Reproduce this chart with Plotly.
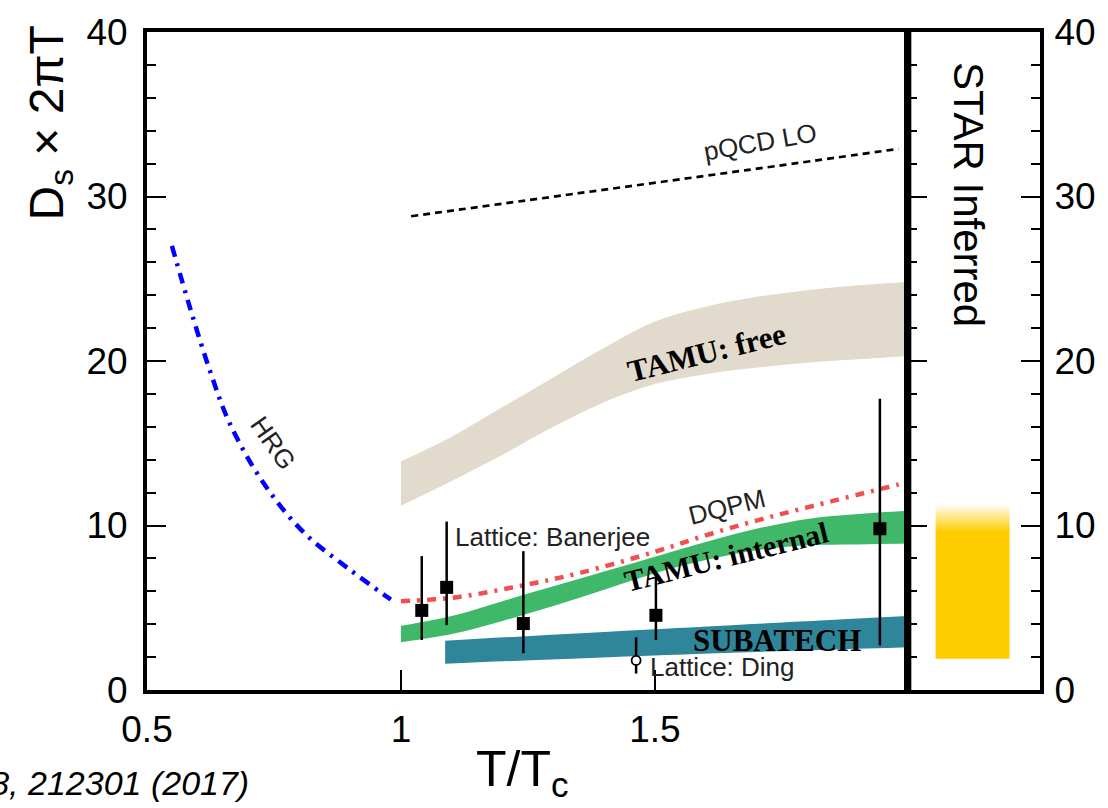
import plotly.graph_objects as go

# ---------------- data ----------------
# Hadron resonance gas (below Tc)
hrg_t = [0.549, 0.585, 0.624, 0.663, 0.729, 0.808, 0.900, 0.980]
hrg_ds = [27.0, 23.2, 19.4, 16.2, 12.6, 9.6, 7.3, 5.5]

# pQCD leading order
pqcd_t = [1.02, 1.35, 1.68, 1.98]
pqcd_ds = [28.8, 30.2, 31.6, 32.9]

# DQPM
dqpm_t = [1.0, 1.1, 1.23, 1.35, 1.5, 1.6, 1.7, 1.8, 1.98]
dqpm_ds = [5.4, 5.6, 6.3, 7.1, 8.4, 9.4, 10.3, 11.1, 12.5]

# TAMU bands
tamu_t = [1.0, 1.1, 1.2, 1.3, 1.4, 1.5, 1.6, 1.7, 1.8, 1.9, 1.998]
tamu_free_hi = [13.9, 15.4, 17.2, 19.0, 20.8, 22.4, 23.3, 23.9, 24.3, 24.6, 24.8]
tamu_free_lo = [11.2, 12.7, 14.3, 16.0, 17.5, 18.6, 19.2, 19.6, 19.9, 20.1, 20.3]
tamu_int_hi = [3.9, 4.5, 5.4, 6.3, 7.2, 8.1, 9.0, 9.8, 10.4, 10.7, 10.9]
tamu_int_lo = [2.9, 3.4, 4.2, 5.1, 6.1, 7.1, 7.9, 8.5, 8.8, 8.85, 8.9]

# SUBATECH band
sub_t = [1.087, 1.5, 1.998]
sub_hi = [3.0, 3.7, 4.5]
sub_lo = [1.6, 2.1, 2.6]

# Lattice QCD: Banerjee et al.
ban_t = [1.041, 1.090, 1.241, 1.502, 1.943]
ban_ds = [4.84, 6.24, 4.04, 4.54, 9.8]
ban_up = [3.3, 4.0, 4.4, 2.3, 7.9]
ban_dn = [1.8, 2.3, 1.8, 1.5, 7.1]

# Lattice QCD: Ding et al.
ding_t = [1.463]
ding_ds = [1.8]
ding_up = [1.4]
ding_dn = [0.8]

# STAR inferred range (solid part and faded upper end)
star_lo = 1.9
star_solid_hi = 9.6
star_hi = 11.3

# ---------------- figure ----------------
X_SPLIT = 0.852
SANS = "Liberation Sans, Arial, Helvetica, sans-serif"
SERIF = "Liberation Serif, Times New Roman, serif"

fig = go.Figure()


def band(t, lo, hi, color):
    # lower edge, then upper edge filled down to it; both smoothed
    fig.add_trace(go.Scatter(x=t, y=lo, mode="lines", line_shape="spline",
                             line=dict(width=0, color=color), hoverinfo="skip",
                             showlegend=False))
    fig.add_trace(go.Scatter(x=t, y=hi, mode="lines", line_shape="spline",
                             line=dict(width=0, color=color), fill="tonexty",
                             fillcolor=color, hoverinfo="skip", showlegend=False))


band(tamu_t, tamu_free_lo, tamu_free_hi, "rgb(226,218,204)")
band(tamu_t, tamu_int_lo, tamu_int_hi, "rgb(64,184,106)")
band(sub_t, sub_lo, sub_hi, "rgb(47,133,153)")

fig.add_trace(go.Scatter(x=pqcd_t, y=pqcd_ds, mode="lines", line_shape="spline",
                         line=dict(color="black", width=2.7, dash="7px,5px"),
                         showlegend=False))
fig.add_trace(go.Scatter(x=hrg_t, y=hrg_ds, mode="lines", line_shape="spline",
                         line=dict(color="rgb(0,0,255)", width=4.5, dash="11px,7px,3px,7px"),
                         showlegend=False))
fig.add_trace(go.Scatter(x=dqpm_t, y=dqpm_ds, mode="lines", line_shape="spline",
                         line=dict(color="rgb(242,80,80)", width=4.5, dash="9px,7px,3px,7px"),
                         showlegend=False))

fig.add_trace(go.Scatter(
    x=ban_t, y=ban_ds, mode="markers",
    marker=dict(symbol="square", size=13, color="black"),
    error_y=dict(type="data", array=ban_up, arrayminus=ban_dn, symmetric=False,
                 thickness=2.5, width=0, color="black"),
    showlegend=False))
fig.add_trace(go.Scatter(
    x=ding_t, y=ding_ds, mode="markers",
    marker=dict(symbol="circle", size=9, color="white", line=dict(color="black", width=1.8)),
    error_y=dict(type="data", array=ding_up, arrayminus=ding_dn, symmetric=False,
                 thickness=2.5, width=0, color="black"),
    showlegend=False))

# STAR inferred bar with faded top
bx0, bx1 = 0.21, 0.77
frac = (star_solid_hi - star_lo) / (star_hi - star_lo)
fig.add_trace(go.Scatter(
    x=[bx0, bx1, bx1, bx0, bx0], y=[star_lo, star_lo, star_hi, star_hi, star_lo],
    xaxis="x2", yaxis="y2", mode="lines", line=dict(width=0), fill="toself",
    fillgradient=dict(type="vertical",
                      colorscale=[[0, "rgb(255,204,0)"], [frac, "rgb(255,204,0)"],
                                  [1, "rgba(255,204,0,0)"]]),
    hoverinfo="skip", showlegend=False))

axis_common = dict(showgrid=False, zeroline=False, linecolor="black", tickcolor="black")
TICK_SIZE = 37

fig.update_layout(
    width=1108, height=808,
    margin=dict(l=147, r=68, t=23, b=118),
    paper_bgcolor="white", plot_bgcolor="white", showlegend=False,
    font=dict(family=SANS, color="black"),
    xaxis=dict(domain=[0, X_SPLIT], range=[0.5, 1.998], anchor="y",
               tickvals=[0.5, 1, 1.5], ticktext=["0.5", "1", "1.5"],
               ticks="inside", ticklen=20, tickwidth=1.5,
               showline=True, linewidth=4, mirror=True,
               tickfont=dict(size=TICK_SIZE, family=SANS), ticklabelstandoff=4,
               **axis_common),
    yaxis=dict(domain=[0, 1], range=[0, 40], anchor="x", dtick=10,
               ticks="inside", ticklen=19, tickwidth=1.5,
               minor=dict(dtick=2, ticks="inside", ticklen=9, tickwidth=1.5,
                          tickcolor="black", showgrid=False),
               showline=True, linewidth=4,
               tickfont=dict(size=TICK_SIZE, family=SANS), ticklabelstandoff=8,
               **axis_common),
    xaxis2=dict(domain=[X_SPLIT, 1], range=[0, 1], anchor="y2",
                showticklabels=False, ticks="", showline=True, linewidth=4,
                mirror=True, **axis_common),
    yaxis2=dict(domain=[0, 1], range=[0, 40], anchor="x2", side="right", dtick=10,
                ticks="inside", ticklen=19, tickwidth=1.5,
                minor=dict(dtick=2, ticks="inside", ticklen=9, tickwidth=1.5,
                           tickcolor="black", showgrid=False),
                showline=True, linewidth=4, mirror="ticks",
                tickfont=dict(size=TICK_SIZE, family=SANS), ticklabelstandoff=3,
                **axis_common),
)

# thick divider between the two panels
fig.add_shape(type="line", xref="paper", yref="paper", x0=X_SPLIT, x1=X_SPLIT,
              y0=0, y1=1, line=dict(color="black", width=7), layer="above")

label_font = dict(family=SANS, size=26, color="#222")
bold_font = dict(family=SERIF, size=31, color="black", weight="bold")
bold_font_int = dict(family=SERIF, size=30, color="black", weight="bold")

annotations = [
    dict(text="pQCD LO", x=1.707, y=33.3, textangle=-10, font=label_font),
    dict(text="TAMU: free", x=1.602, y=20.5, textangle=-14, font=bold_font),
    dict(text="DQPM", x=1.641, y=11.1, textangle=-14, font=label_font),
    dict(text="TAMU: internal", x=1.641, y=8.1, textangle=-14, font=bold_font_int),
    dict(text="SUBATECH", x=1.74, y=3.0, font=bold_font),
    dict(text="Lattice: Banerjee", x=1.103, y=9.3, xanchor="left", font=label_font),
    dict(text="Lattice: Ding", x=1.486, y=1.4, xanchor="left", font=label_font),
    dict(text="HRG", x=0.748, y=15.0, textangle=55, font=label_font),
]
for a in annotations:
    a.setdefault("xanchor", "center")
    fig.add_annotation(xref="x", yref="y", yanchor="middle", showarrow=False, **a)

fig.add_annotation(text="STAR Inferred", xref="x2", yref="y2", x=0.455, y=30.1,
                   textangle=90, showarrow=False,
                   font=dict(family=SANS, size=42, color="black"))

# axis titles
fig.add_annotation(text="D<sub>s</sub> × 2πT", xref="paper", yref="paper",
                   x=-0.109, y=0.862, textangle=-90, showarrow=False,
                   xanchor="center", yanchor="middle",
                   font=dict(family=SANS, size=48, color="black"))
fig.add_annotation(text="T/T<sub>c</sub>", xref="paper", yref="paper",
                   x=0.42, y=-0.125, showarrow=False,
                   xanchor="center", yanchor="middle",
                   font=dict(family=SANS, size=50, color="black"))

# reference
fig.add_annotation(text="Phys. Rev. Lett. 118, 212301 (2017)", xref="paper", yref="paper",
                   x=(251 - 147) / 893, y=-0.142, xanchor="right", yanchor="middle",
                   showarrow=False,
                   font=dict(family=SANS, size=34, color="black", style="italic"))

fig.write_html("out.html")
